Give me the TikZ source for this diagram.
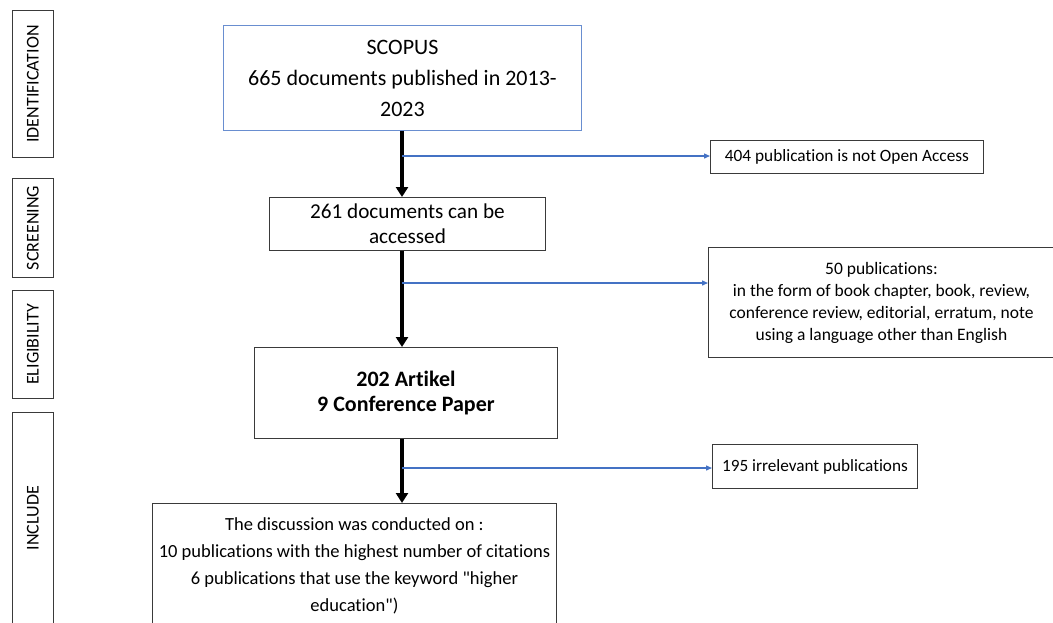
\documentclass[tikz,border=0pt]{standalone}
\usepackage{fontspec}
\setmainfont{Carlito}[Ligatures={NoCommon,TeXOff}]
\usetikzlibrary{arrows.meta,calc}
\definecolor{bl}{HTML}{4472C4}
\definecolor{bd}{HTML}{3A3A3A}
\tikzset{
  box/.style={draw=bd, line width=0.9pt, inner sep=0pt, align=center, anchor=north west},
  side/.style={box},
  sidetext/.style={rotate=90, font=\fontsize{18}{20}\selectfont},
  mainarrow/.style={line width=3.6pt, -{Triangle[width=12pt,length=10pt]}},
  sidearrow/.style={draw=bl, line width=1.3pt, -{Triangle[width=5pt,length=6pt]}},
}
\begin{document}
\begin{tikzpicture}[x=1pt,y=-1pt]
\useasboundingbox (0,0) rectangle (1053,622);
\clip (0,0) rectangle (1053,622);
% side labels
\node[side, minimum width=41pt, minimum height=147pt] (idf) at (12,10) {};
\node[sidetext] (idft) at (idf.center) {IDENTIFICATION};
\node[side, minimum width=41pt, minimum height=99pt] (scr) at (12,178) {};
\node[sidetext] (scrt) at (scr.center) {SCREENING};
\node[side, minimum width=41pt, minimum height=108pt] (eli) at (12,290) {};
\node[sidetext] (elit) at (eli.center) {ELIGIBILITY};
\node[side, minimum width=41pt, minimum height=230pt] (inc) at (12,412) {};
\node[sidetext] (inct) at ($(inc.north)+(0,106)$) {INCLUDE};
% main boxes
\node[box, draw=bl!80, minimum width=358pt, minimum height=105pt,
      font=\fontsize{22}{31}\selectfont] (scopus) at (223,25)
  {SCOPUS\\665 documents published in 2013-\\2023};
\node[box, minimum width=276pt, minimum height=53pt,
      font=\fontsize{21.2}{25}\selectfont] (s261) at (269,197)
  {261 documents can be\\accessed};
\node[box, minimum width=303pt, minimum height=91pt,
      font=\bfseries\fontsize{22}{25}\selectfont] (s202) at (254,347)
  {202 Artikel\\9 Conference Paper};
\node[box, minimum width=404pt, minimum height=124pt,
      font=\fontsize{18.5}{27}\selectfont] (incl) at (152,503)
  {The discussion was conducted on :\\10 publications with the highest number of citations\\6 publications that use the keyword "higher\\education")};
% excluded boxes
\node[box, minimum width=273pt, minimum height=33pt,
      font=\fontsize{17.3}{20}\selectfont] (e404) at (710,140)
  {404 publication is not Open Access};
\node[box, minimum width=346pt, minimum height=110pt,
      font=\fontsize{17.5}{22}\selectfont] (e50) at (708,247)
  {50 publications:\\in the form of book chapter, book, review,\\conference review, editorial, erratum, note\\using a language other than English};
\node[box, minimum width=205pt, minimum height=44pt,
      font=\fontsize{17.2}{20}\selectfont] (e195) at (712,444)
  {195 irrelevant publications};
% main arrows
\coordinate (ax) at (402,0);
\draw[mainarrow] (ax |- scopus.south) -- (ax |- s261.north);
\draw[mainarrow] (ax |- s261.south) -- (ax |- s202.north);
\draw[mainarrow] (ax |- s202.south) -- (ax |- incl.north);
% side arrows
\coordinate (b1) at (402,156);
\coordinate (b2) at (402,283);
\coordinate (b3) at (402,468);
\draw[sidearrow] (b1) -- (b1 -| e404.west);
\draw[sidearrow] (b2) -- (b2 -| e50.west);
\draw[sidearrow] (b3) -- (b3 -| e195.west);
\end{tikzpicture}
\end{document}
